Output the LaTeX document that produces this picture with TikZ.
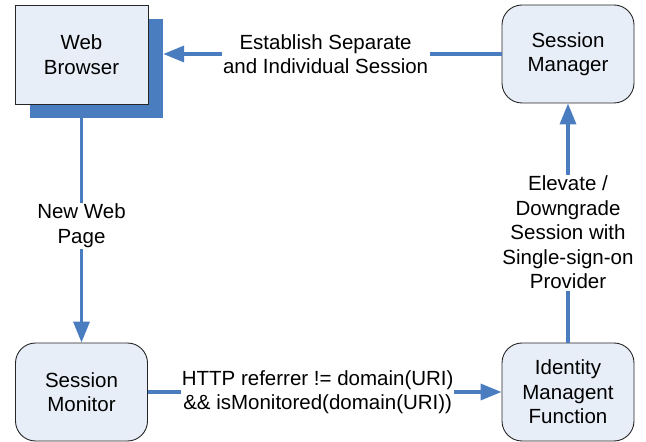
\documentclass[tikz,border=0pt]{standalone}
\usepackage{fontspec}
\setmainfont{Liberation Sans}
\usepackage{xcolor}
\usetikzlibrary{shapes, arrows.meta, positioning}
\definecolor{flowblue}{RGB}{74,124,192}
\definecolor{boxfill}{RGB}{232,238,248}

\begin{document}
\begin{tikzpicture}[x=1pt, y=1pt,
            font=\fontsize{20.5}{24.5}\selectfont,
            box/.style={draw=black!85, line width=0.9pt, rectangle, fill=boxfill, minimum width=132pt, minimum height=98pt, align=center, inner sep=0pt},
            rbox/.style={box, rounded corners=20pt},
            shade/.style={rectangle, fill=flowblue, minimum width=133pt, minimum height=99pt, inner sep=0pt},
            flow/.style={-{Triangle[length=21pt, width=16pt]}, line width=3.5pt, flowblue},
            lbl/.style={fill=white, align=center, inner sep=1.5pt, text=black}]

            \useasboundingbox (0,0) rectangle (646,442);

            % Browser mit Schatten
            \node[shade] (browsershadow) at (96.5,373.5) {};
            \node[box, minimum width=133pt, minimum height=99pt] (browser) at (81.5,387.5) {Web\\Browser};

            % Sitzungen
            \node[rbox] (manager) at (568,388) {Session\\Manager};
            \node[rbox] (monitor) at (81.5,50) {Session\\Monitor};
            \node[rbox] (idm) at (568,50) {Identity\\Managent\\Function};

            % Verbindungen
            \draw[flow] (manager.west) -- (manager.west -| browsershadow.east)
                node[lbl, pos=0.52] {Establish Separate\\and Individual Session};
            \draw[flow] (browser.south |- browsershadow.south) -- (monitor.north)
                node[lbl, pos=0.48] {New Web\\Page};
            \draw[flow] (monitor.east) -- (idm.west)
                node[lbl, pos=0.48, inner sep=0.5pt] {HTTP referrer != domain(URI)\\\&\& isMonitored(domain(URI))};
            \draw[flow] (idm.north) -- (manager.south)
                node[lbl, pos=0.46] {Elevate /\\Downgrade\\Session with\\Single-sign-on\\Provider};
        \end{tikzpicture}
\end{document}
